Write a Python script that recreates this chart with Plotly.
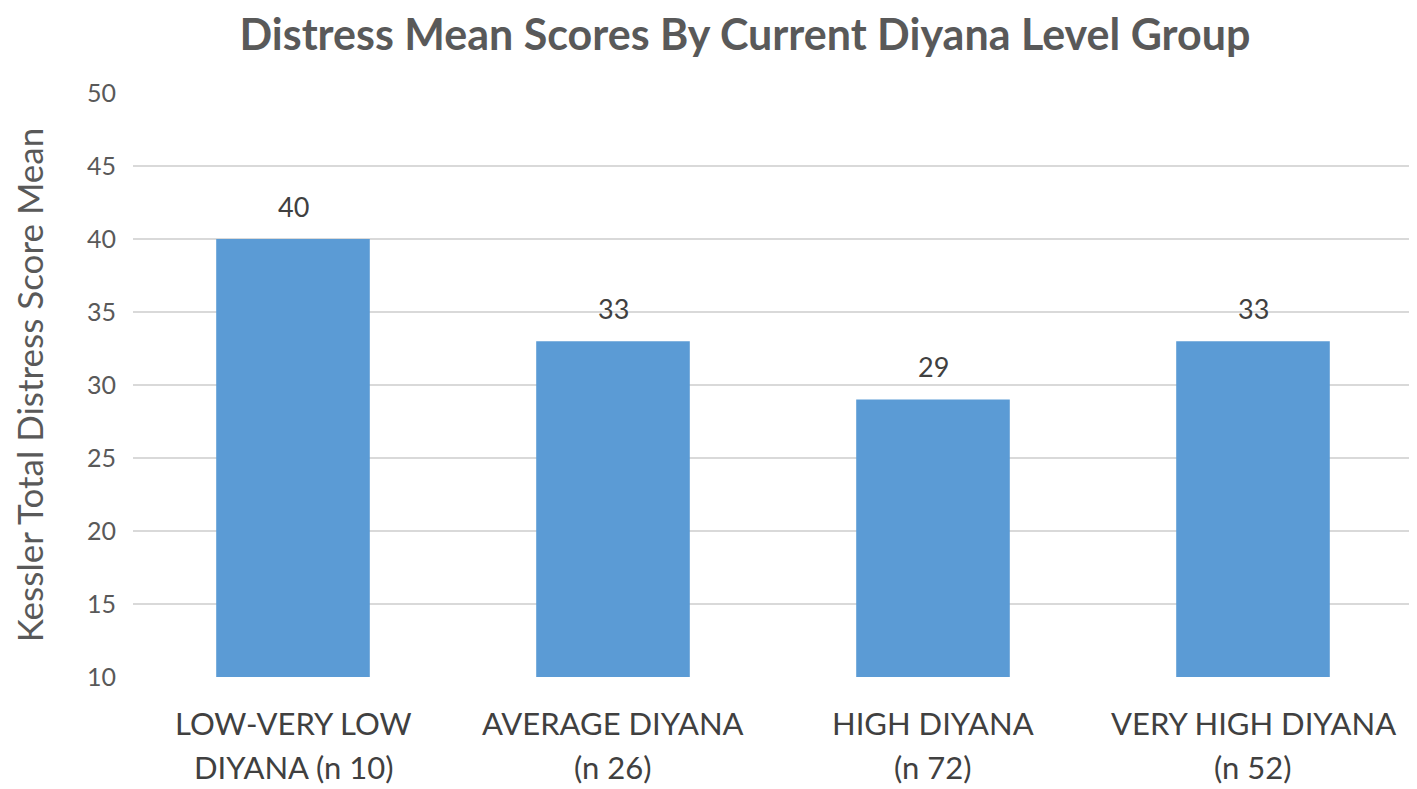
import plotly.graph_objects as go

# --- data ---
categories = ["LOW-VERY LOW DIYANA (n 10)", "AVERAGE DIYANA (n 26)",
              "HIGH DIYANA (n 72)", "VERY HIGH DIYANA (n 52)"]
label_line1 = ["LOW-VERY LOW", "AVERAGE DIYANA", "HIGH DIYANA", "VERY HIGH DIYANA"]
label_line2 = ["DIYANA (n 10)", "(n 26)", "(n 72)", "(n 52)"]
mean_scores = [40, 33, 29, 33]
y_ticks = [10, 15, 20, 25, 30, 35, 40, 45, 50]

FONT = "Lato"
BAR_COLOR = "#5B9BD5"
TEXT_DARK = "#404040"
TEXT_GREY = "#595959"

fig = go.Figure()

fig.add_trace(go.Bar(
    x=categories,
    y=mean_scores,
    base=0,
    marker=dict(color=BAR_COLOR, line=dict(width=0)),
    hoverinfo="x+y",
))

# value labels above bars
for cat, val in zip(categories, mean_scores):
    fig.add_annotation(
        x=cat, y=val, text=str(val), showarrow=False,
        yanchor="middle", yshift=33,
        font=dict(family=FONT, size=27, color=TEXT_DARK),
    )

# two-line category labels (wider line spacing than tick labels allow)
for cat, l1, l2 in zip(categories, label_line1, label_line2):
    fig.add_annotation(
        x=cat, y=0, yref="paper", text=l1, showarrow=False,
        yanchor="middle", yshift=-46,
        font=dict(family=FONT, size=31, color=TEXT_DARK),
    )
    fig.add_annotation(
        x=cat, y=0, yref="paper", text=l2, showarrow=False,
        yanchor="middle", yshift=-90,
        font=dict(family=FONT, size=31, color=TEXT_DARK),
    )

fig.update_layout(
    title=dict(
        text="<b>Distress Mean Scores By Current Diyana Level Group</b>",
        x=0.523, xanchor="center", y=0.965, yanchor="middle",
        font=dict(family=FONT, size=43, color=TEXT_GREY),
    ),
    xaxis=dict(showticklabels=False, showgrid=False, zeroline=False,
               showline=False, ticks=""),
    yaxis=dict(
        title=dict(text="Kessler Total Distress Score Mean", standoff=50,
                   font=dict(family=FONT, size=35, color=TEXT_GREY)),
        range=[10, 50],
        tickvals=y_ticks,
        tickfont=dict(family=FONT, size=25, color=TEXT_GREY),
        ticklabelstandoff=16,
        showgrid=True, gridcolor="#D9D9D9", gridwidth=2,
        zeroline=False, showline=False, ticks="",
    ),
    bargap=0.52,
    showlegend=False,
    plot_bgcolor="white",
    paper_bgcolor="white",
    # page body adds an 8px offset, so the figure is 8px smaller on each side
    margin=dict(l=123, r=4, t=85, b=112),
    width=1409,
    height=781,
)

fig.write_html("out.html")
